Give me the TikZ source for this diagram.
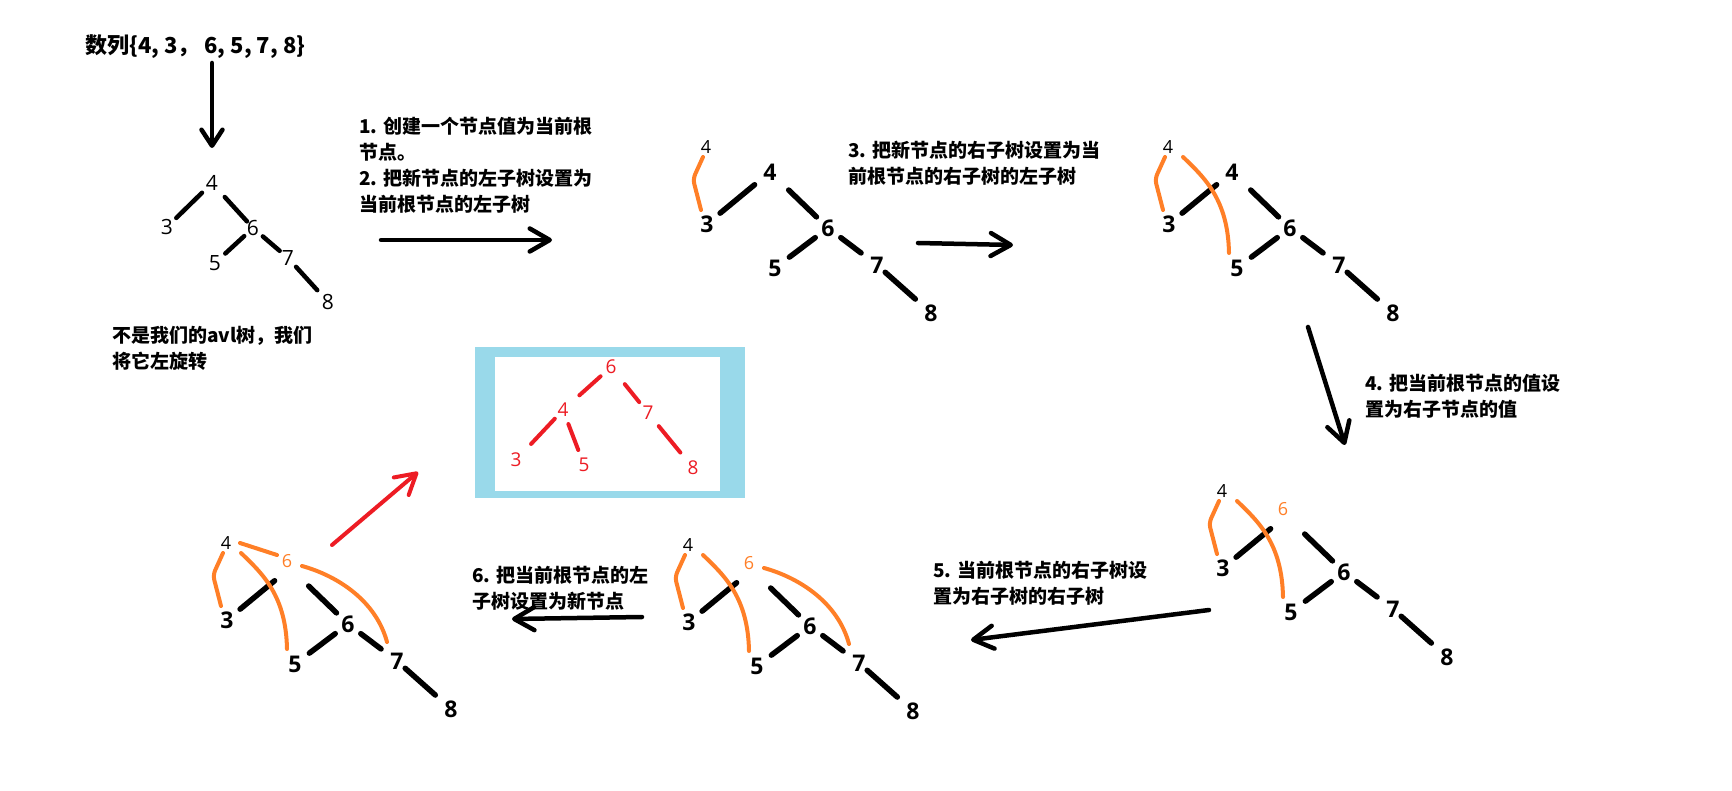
\documentclass[tikz,border=0pt]{standalone}
\usepackage{fontspec}
\usetikzlibrary{arrows.meta}
\newfontfamily\cjkfont{Noto Sans CJK SC}
\newfontfamily\digfont{Open Sans}
\definecolor{paintorange}{RGB}{255,127,39}
\definecolor{paintred}{RGB}{237,28,36}
\definecolor{paintblue}{RGB}{153,217,234}
\tikzset{
  note/.style={anchor=north west, align=left, inner sep=0pt,
    font=\cjkfont\bfseries\fontsize{19}{26}\selectfont},
  titlestyle/.style={anchor=north west, inner sep=0pt,
    font=\cjkfont\bfseries\fontsize{22}{22}\selectfont},
  digone/.style={inner sep=0pt, font=\digfont\fontsize{21}{21}\selectfont},
  digbig/.style={inner sep=0pt, font=\digfont\bfseries\fontsize{23}{23}\selectfont},
  digsmall/.style={inner sep=0pt, font=\digfont\fontsize{18}{18}\selectfont},
  digred/.style={inner sep=0pt, text=paintred, font=\digfont\fontsize{19}{19}\selectfont},
  sh/.style 2 args={shorten <=#1pt, shorten >=#2pt},
  edgebig/.style={line width=5.5pt, line cap=round},
  edgeone/.style={line width=4.5pt, line cap=round},
  oline/.style={paintorange, line width=4pt, line cap=round, line join=round},
  redge/.style={paintred, line width=4pt, line cap=round},
  arr/.style={line width=4.5pt, line cap=round,
    -{Straight Barb[length=20pt,width=23pt,round]}},
}
% black part of the big trees (coordinates of the tree at the upper right)
\newcommand\bigtreebody[1]{%
  \node[digsmall] (top4) at (1168,147) {4};
  \node[digbig] (b4) at (1232,172) {#1};
  \node[digbig] (n3) at (1169,224) {3};
  \node[digbig] (n6) at (1290,228) {6};
  \node[digbig] (n5) at (1237,268) {5};
  \node[digbig] (n7) at (1339,265) {7};
  \node[digbig] (n8) at (1393,313) {8};
  \draw[edgebig, sh={20}{17}] (b4.center) -- (n3.center);
  \draw[edgebig, sh={26}{16}] (b4.center) -- (n6.center);
  \draw[edgebig, sh={16}{18}] (n6.center) -- (n5.center);
  \draw[edgebig, sh={16}{20}] (n6.center) -- (n7.center);
  \draw[edgebig, sh={11}{21}] (n7.center) -- (n8.center);
  \draw[oline, rounded corners=5pt] ([shift={(-3,10)}]top4.center)
    -- ([shift={(-13,32)}]top4.center) -- ([shift={(-6,-14)}]n3.center);
}
\newcommand\orangeright{%
  \draw[oline] ([shift={(15,10)}]top4.center) .. controls ([shift={(37,31)}]top4.center)
    and ([shift={(-9,-68)}]n5.center) .. ([shift={(-8,-15)}]n5.center);
}
\newcommand\orangesix{%
  \node[digsmall, text=paintorange] (o6) at (1229,165) {6};
}
\newcommand\orangeseven{%
  \draw[oline] ([shift={(15,5)}]o6.center) .. controls ([shift={(51,15)}]o6.center)
    and ([shift={(-21,-60)}]n7.center) .. ([shift={(-10,-19)}]n7.center);
}
\begin{document}
\begin{tikzpicture}[x=1pt, y=-1pt]
\useasboundingbox (0,0) rectangle (1732,791);
\fill[white] (0,0) rectangle (1732,791);

% title and first tree
\node[titlestyle] (title) at (85,34) {数列\{4, 3， 6, 5, 7, 8\}};
\coordinate (d0) at (212,63);
\coordinate (d1) at (212,148);
\draw[arr, -{Straight Barb[length=16pt,width=21pt,round]}] (d0) -- (d1);

\node[digone] (a4) at (212,183) {4};
\node[digone] (a3) at (167,227) {3};
\node[digone] (a6) at (253,228) {6};
\node[digone] (a5) at (215,263) {5};
\node[digone] (a7) at (288,258) {7};
\node[digone] (a8) at (328,302) {8};
\draw[edgeone, sh={14}{13}] (a4.center) -- (a3.center);
\draw[edgeone, sh={19}{9}] (a4.center) -- (a6.center);
\draw[edgeone, sh={12}{14}] (a6.center) -- (a5.center);
\draw[edgeone, sh={13}{11}] (a6.center) -- (a7.center);
\draw[edgeone, sh={12}{16}] (a7.center) -- (a8.center);

\node[note] (notA) at (112,326) {不是我们的avl树，我们\\将它左旋转};

% step texts
\node[note] (s1) at (359,117) {1. 创建一个节点值为当前根\\节点。\\2. 把新节点的左子树设置为\\当前根节点的左子树};
\node[note] (s3) at (848,141) {3. 把新节点的右子树设置为当\\前根节点的右子树的左子树};
\node[note] (s4) at (1365,374) {4. 把当前根节点的值设\\置为右子节点的值};
\node[note] (s5) at (933,561) {5. 当前根节点的右子树设\\置为右子树的右子树};
\node[note] (s6) at (472,566) {6. 把当前根节点的左\\子树设置为新节点};

% arrows between steps
\coordinate (p1s) at (381,240); \coordinate (p1e) at (552,240);
\draw[arr] (p1s) -- (p1e);
\coordinate (p3s) at (918,243); \coordinate (p3e) at (1013,245);
\draw[arr] (p3s) -- (p3e);
\coordinate (p4s) at (1308,327); \coordinate (p4e) at (1345,445);
\draw[arr] (p4s) -- (p4e);
\coordinate (p5s) at (1209,610); \coordinate (p5e) at (971,640);
\draw[arr] (p5s) -- (p5e);
\coordinate (p6s) at (642,617); \coordinate (p6e) at (512,619);
\draw[arr] (p6s) -- (p6e);

% tree 2
\begin{scope}[shift={(-462,0)}, name prefix=tb-]
  \bigtreebody{4}
\end{scope}
% tree 3
\begin{scope}[name prefix=tc-]
  \bigtreebody{4}
  \orangeright
\end{scope}
% tree 4
\begin{scope}[shift={(54,344)}, name prefix=td-]
  \bigtreebody{}
  \orangeright
  \orangesix
\end{scope}
% tree 5
\begin{scope}[shift={(-480,398)}, name prefix=te-]
  \bigtreebody{}
  \orangeright
  \orangesix
  \orangeseven
\end{scope}
% tree 6
\begin{scope}[shift={(-942,396)}, name prefix=tf-]
  \bigtreebody{}
  \orangeright
  \orangesix
  \orangeseven
  \draw[oline] ([shift={(14,0)}]top4.center) -- ([shift={(-10,-6)}]o6.center);
\end{scope}

% result in frame
\fill[paintblue] (475,347) rectangle (745,498);
\fill[white] (495,357) rectangle (720,491);
\node[digred] (r6) at (611,367) {6};
\node[digred] (r4) at (563,410) {4};
\node[digred] (r7) at (648,413) {7};
\node[digred] (r3) at (516,460) {3};
\node[digred] (r5) at (584,465) {5};
\node[digred] (r8) at (693,468) {8};
\draw[redge, sh={14}{22}] (r6.center) -- (r4.center);
\draw[redge, sh={22}{14}] (r6.center) -- (r7.center);
\draw[redge, sh={12}{22}] (r4.center) -- (r3.center);
\draw[redge, sh={15}{16}] (r4.center) -- (r5.center);
\draw[redge, sh={17}{20}] (r7.center) -- (r8.center);

\coordinate (qs) at (332,545); \coordinate (qe) at (418,472);
\draw[arr, paintred, line width=4pt] (qs) -- (qe);
\end{tikzpicture}
\end{document}
